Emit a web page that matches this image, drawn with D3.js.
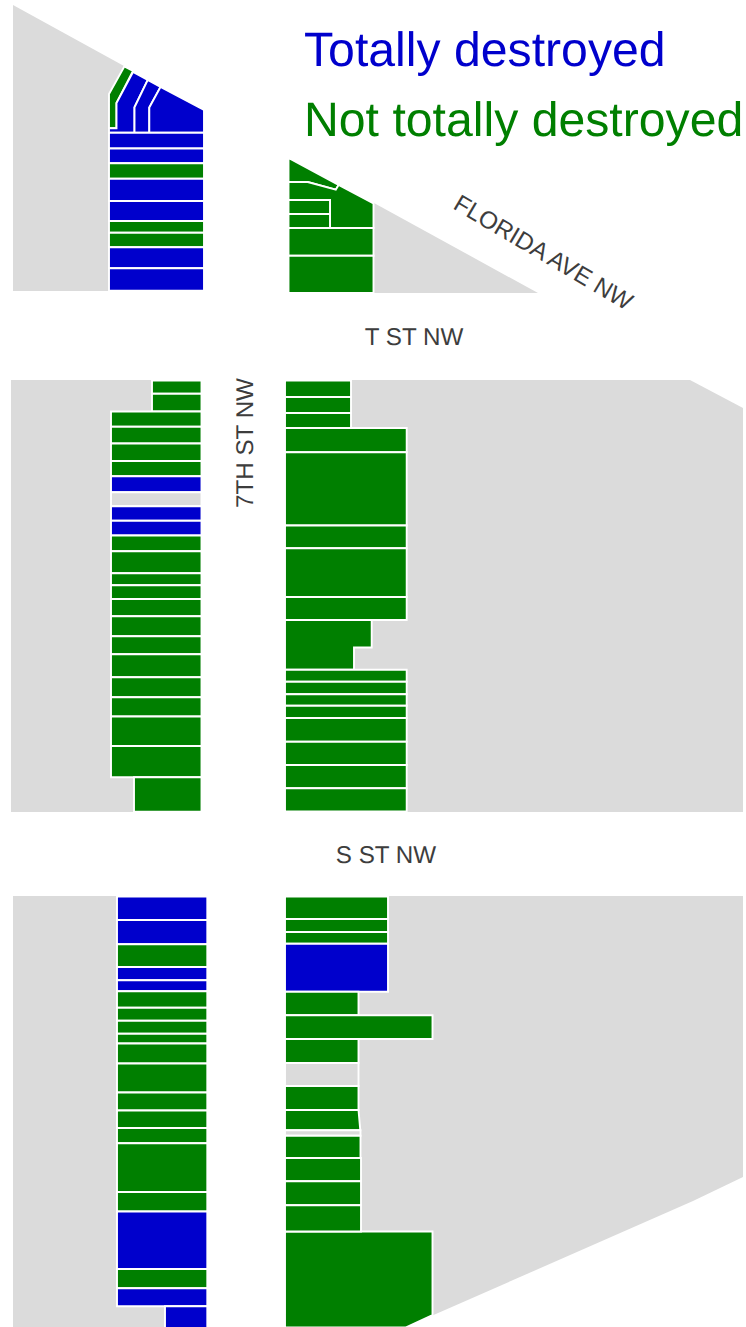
<!DOCTYPE html>
<html>
<head>
<meta charset="utf-8">
<title>7th St NW damage map</title>
<script src="https://cdnjs.cloudflare.com/ajax/libs/d3/7.8.5/d3.min.js"></script>
<style>
    html, body { margin: 0; padding: 0; background: #fff; }
    svg { display: block; }
    text { font-family: "Liberation Sans", Arial, sans-serif; text-rendering: geometricPrecision; }
</style>
</head>
<body>
<div id="chart"></div>
<script>
// map coordinates are read off the picture, T = totally destroyed, N = not totally, V = vacant
const legendLabels = ["Totally destroyed", "Not totally destroyed"];
const statusCodes = ["T", "N", "V"];

const streetLabels = [
    {name: "T ST NW", at: [414, 337], angle: 0},
    {name: "S ST NW", at: [386, 855], angle: 0},
    {name: "7TH ST NW", at: [245, 443], angle: -90},
    {name: "FLORIDA AVE NW", at: [543, 253], angle: 30.5}
];

// grey city blocks
const blocks = [
    [[13, 5], [124, 66], [109, 94], [109, 291], [13, 291]],
    [[374, 203], [538, 293], [374, 293]],
    [[11, 380], [201, 380], [201, 812], [11, 812]],
    [[285, 380], [690, 380], [743, 408], [743, 812], [285, 812]],
    [[13, 896], [207, 896], [207, 1327], [13, 1327]],
    [[285, 896], [743, 896], [743, 1177], [693, 1201], [445, 1310], [406, 1327], [285, 1327]]
];

// stacks of plain lots: x range, row edges, status of each row
const nwTopEdges = [132.8, 148.5, 163.3, 178.7, 201, 221, 232.8, 247.2, 268.3, 290.8];
const nwTopStatus = ["T", "T", "N", "T", "T", "N", "N", "T", "T"];

const neTopEdges = [200, 214, 228, 255.7, 293];
const neTopRanges = [[288.5, 330], [288.5, 330], [288.5, 373.5], [288.5, 373.5]];
const neTopStatus = ["N", "N", "N", "N"];

const nwMidUpperEdges = [380.5, 393.8, 411.5];
const nwMidUpperStatus = ["N", "N"];
const nwMidEdges = [411.5, 426.7, 443.5, 461, 476.2, 492.2, 506.2, 520.8, 535.5, 551.2, 573.2, 585.2, 599, 616.2, 636.2, 654.3, 677.3, 697.3, 716.5, 746, 777.3];
const nwMidStatus = ["N", "N", "N", "N", "T", "V", "T", "T", "N", "N", "N", "N", "N", "N", "N", "N", "N", "N", "N", "N"];
const nwMidLowerEdges = [777.3, 811.8];
const nwMidLowerStatus = ["N"];

const neMidUpperEdges = [380.5, 397, 413, 428];
const neMidUpperStatus = ["N", "N", "N"];
const neMidEdges = [428, 452.3, 525.5, 548.3, 597, 620];
const neMidStatus = ["N", "N", "N", "N", "N"];
const neMidLowerEdges = [669.7, 681.7, 694.3, 705.7, 718, 741.7, 765, 788.3, 811.5];
const neMidLowerStatus = ["N", "N", "N", "N", "N", "N", "N", "N"];

const swEdges = [896.5, 920, 944.3, 967, 980.3, 991.2, 1007.8, 1020.7, 1033.7, 1043.5, 1063.5, 1092.5, 1110.5, 1128, 1143.3, 1192, 1211.5, 1269, 1288.3, 1306.3];
const swStatus = ["T", "T", "N", "T", "T", "N", "N", "N", "N", "N", "N", "N", "N", "N", "N", "N", "T", "N", "T"];
const swLowerEdges = [1306.3, 1328];
const swLowerStatus = ["T"];

const seEdges = [896.5, 919, 932, 943.7, 991.7, 1015.3, 1039, 1063, 1086, 1110];
const seRanges = [[285, 388], [285, 388], [285, 388], [285, 388], [285, 358.5], [285, 432.5], [285, 358.5], [285, 358.5], [285, 358.5]];
const seStatus = ["N", "N", "N", "T", "N", "N", "N", "V", "N"];
const seLowerEdges = [1130.3, 1135.7, 1158, 1181.3, 1205.3, 1231.5];
const seLowerRanges = [[285, 360.5], [285, 360.5], [285, 361], [285, 361], [285, 361]];
const seLowerStatus = ["V", "N", "N", "N", "N"];

// lots with an irregular outline
const oddLots = [
    {status: "N", points: [[124.3, 66.5], [133, 71], [116.5, 103], [116.5, 128.3], [109, 128.3], [109, 94]]},
    {status: "T", points: [[133, 72], [147.7, 80], [134.5, 107.3], [134.5, 132.8], [109, 132.8], [109, 128.3], [116.5, 128.3], [116.5, 103]]},
    {status: "T", points: [[147.7, 80], [160.5, 87], [149.3, 107.5], [149.3, 132.8], [134.5, 132.8], [134.5, 107.3]]},
    {status: "T", points: [[160.5, 87], [204, 110], [204, 132.8], [149.3, 132.8], [149.3, 107.5]]},
    {status: "N", points: [[288.5, 158], [338.6, 185], [335.8, 189.7], [307.7, 182], [288.5, 182]]},
    {status: "N", points: [[288.5, 182], [307.7, 182], [335.8, 189.7], [338.6, 185], [373.5, 203.5], [373.5, 228], [330, 228], [330, 200], [288.5, 200]]},
    {status: "N", points: [[285, 620], [371.7, 620], [371.7, 647.5], [354, 647.5], [354, 669.7], [285, 669.7]]},
    {status: "N", points: [[285, 1110], [358.5, 1110], [360.3, 1130.3], [285, 1130.3]]},
    {status: "N", points: [[285, 1231.5], [432.5, 1231.5], [432.5, 1315], [405.5, 1327.5], [285, 1327.5]]}
];

let margin = {top: 0, right: 0, bottom: 0, left: 0};
let width = 746 - margin.left - margin.right;
let height = 1327 - margin.top - margin.bottom;

let svg = d3.select("#chart").append("svg")
    .attr("width", width)
    .attr("height", height);

let xScale = d3.scaleLinear().domain([0, 746]).range([0, width]);
let yScale = d3.scaleLinear().domain([0, 1327]).range([0, height]);

let colorScale = d3.scaleOrdinal()
    .domain(statusCodes)
    .range(["#0000cc", "#007f00", "#dbdbdb"]);

let polygon = d3.line()
    .x(d => xScale(d[0]))
    .y(d => yScale(d[1]))
    .curve(d3.curveLinearClosed);

// turn a stack of rows into four corner polygons
function stack(edges, status, range) {
    return status.map((s, i) => {
        let r = Array.isArray(range[0]) ? range[i] : range;
        return {
            status: s,
            points: [[r[0], edges[i]], [r[1], edges[i]], [r[1], edges[i + 1]], [r[0], edges[i + 1]]]
        };
    });
}

let lots = [].concat(
    oddLots,
    stack(nwTopEdges, nwTopStatus, [109, 204]),
    stack(neTopEdges, neTopStatus, neTopRanges),
    stack(nwMidUpperEdges, nwMidUpperStatus, [152, 201.5]),
    stack(nwMidEdges, nwMidStatus, [111, 201.5]),
    stack(nwMidLowerEdges, nwMidLowerStatus, [134, 201.5]),
    stack(neMidUpperEdges, neMidUpperStatus, [285, 351]),
    stack(neMidEdges, neMidStatus, [285, 406.7]),
    stack(neMidLowerEdges, neMidLowerStatus, [285, 406.7]),
    stack(swEdges, swStatus, [117, 207.3]),
    stack(swLowerEdges, swLowerStatus, [165, 207.3]),
    stack(seEdges, seStatus, seRanges),
    stack(seLowerEdges, seLowerStatus, seLowerRanges)
);

svg.append("g").selectAll("path")
    .data(blocks)
    .enter().append("path")
    .attr("d", polygon)
    .attr("fill", colorScale("V"));

svg.append("g").selectAll("path")
    .data(lots)
    .enter().append("path")
    .attr("d", d => polygon(d.points))
    .attr("fill", d => colorScale(d.status))
    .attr("stroke", "white")
    .attr("stroke-width", 1.9)
    .attr("stroke-linejoin", "miter");

// legend
svg.append("g").selectAll("text")
    .data(legendLabels)
    .enter().append("text")
    .attr("x", xScale(304))
    .attr("y", (d, i) => yScale(66 + i * 70))
    .attr("fill", (d, i) => colorScale(statusCodes[i]))
    .style("font-size", "48.2px")
    .text(d => d);

// street names
svg.append("g").selectAll("text")
    .data(streetLabels)
    .enter().append("text")
    .attr("transform", d => `translate(${xScale(d.at[0])}, ${yScale(d.at[1])}) rotate(${d.angle})`)
    .attr("text-anchor", "middle")
    .attr("dominant-baseline", "central")
    .attr("fill", "#3d3d3d")
    .style("font-size", "24.2px")
    .text(d => d.name);
</script>
</body>
</html>
